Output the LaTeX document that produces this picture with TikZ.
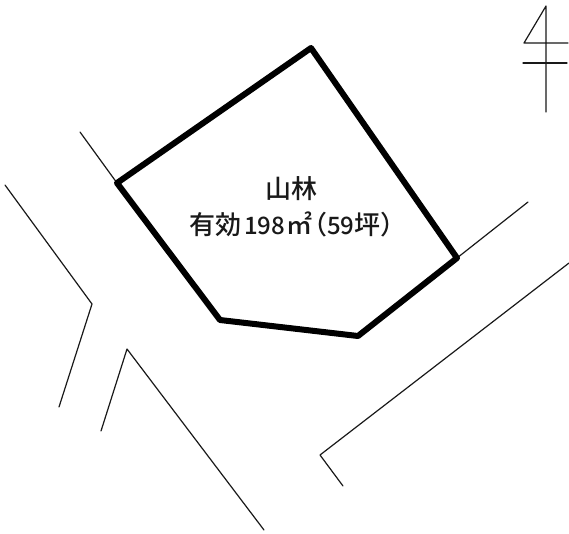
\documentclass[tikz,border=0pt]{standalone}
\usepackage{fontspec}
\newfontfamily\cjk{Noto Sans CJK JP Medium}
\newcommand{\ideo}{\fontsize{26}{30}\selectfont}
\newcommand{\digi}{\fontsize{24}{30}\selectfont}
\tikzset{
  thinline/.style={draw=black!90,line width=1.2pt,line cap=round,line join=round},
  plot/.style={draw=black,line width=6pt,line cap=round,line join=round},
  lbl/.style={font=\cjk,inner sep=0pt,text=black!90}
}
\begin{document}
\begin{tikzpicture}[x=1pt,y=-1pt]
\useasboundingbox (0,0) rectangle (569,533);
\fill[white] (0,0) rectangle (569,533);
% north mark
\draw[thinline] (568,43) -- (524,43) -- (546,6) -- (546,112);
\draw[thinline] (523,63) -- (567,63);
% roads
\draw[thinline] (80,132) -- (117,183);
\draw[thinline] (457,258) -- (528,202);
\draw[thinline] (5,185) -- (92,304) -- (59,407);
\draw[thinline] (101,431) -- (127,349) -- (264,530);
\draw[thinline] (569,263) -- (320,455) -- (343,486);
% plot
\draw[plot] (117,183) -- (311,48) -- (457,258) -- (358,336) -- (220,320) -- cycle;
\node[lbl,anchor=base] (name) at (291.5,198) {\ideo 山林};
\node[lbl,anchor=base west] (area) at (189,234) {\ideo 有効\kern3pt{\digi 198}\kern1pt ㎡\kern-11pt （{\digi 59}坪）};
\end{tikzpicture}
\end{document}
